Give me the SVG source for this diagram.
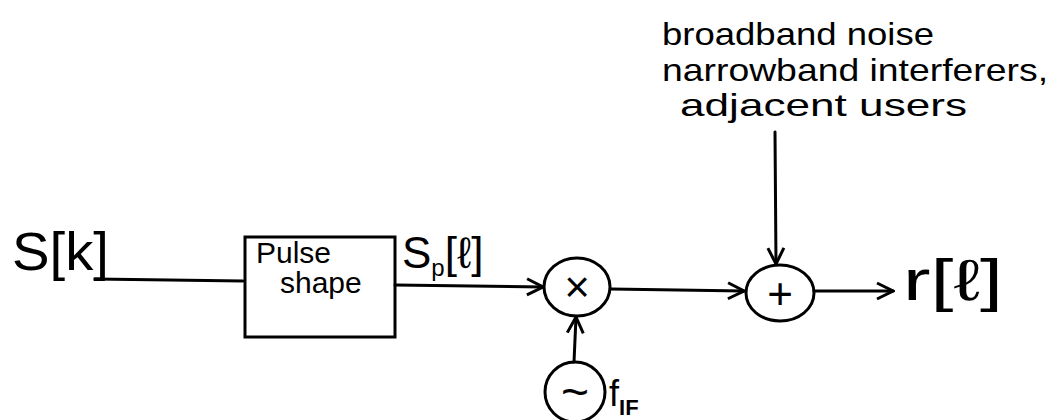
<svg xmlns="http://www.w3.org/2000/svg" width="1054" height="420" viewBox="0 0 1054 420">
<defs>
<marker id="arr" viewBox="0 0 20 20" refX="18" refY="10" markerWidth="20" markerHeight="20" markerUnits="userSpaceOnUse" orient="auto">
<path d="M2,2 L18,10 L2,18" fill="none" stroke="#000" stroke-width="3"/>
</marker>
<style>
.s{fill:none;stroke:#000;stroke-width:3;stroke-linecap:round}
.t{font-family:"Liberation Sans",Arial,sans-serif;fill:#000}
</style>
</defs>
<rect width="1054" height="420" fill="#fff"/>
<g id="conn">
<line class="s" x1="95" y1="279" x2="243" y2="281"/>
<line class="s" x1="395" y1="285" x2="543" y2="287" marker-end="url(#arr)"/>
<line class="s" x1="611" y1="289" x2="744" y2="291" marker-end="url(#arr)"/>
<line class="s" x1="814" y1="291" x2="893" y2="291" marker-end="url(#arr)"/>
<line class="s" x1="775" y1="132" x2="776" y2="264" marker-end="url(#arr)"/>
<line class="s" x1="574" y1="362" x2="576" y2="317" marker-end="url(#arr)"/>
</g>
<g id="input"><text class="t" x="12" y="270" font-size="54" textLength="97" lengthAdjust="spacingAndGlyphs">S[k]</text></g>
<g id="pulse">
<rect class="s" x="245" y="237" width="150" height="100"/>
<text class="t" x="256" y="263" font-size="30">Pulse</text>
<text class="t" x="280" y="293" font-size="30">shape</text>
<text class="t" x="402" y="268" font-size="44">S<tspan font-size="24" dy="8">p</tspan><tspan dy="-8">[ℓ]</tspan></text>
</g>
<g id="mult">
<ellipse class="s" cx="577" cy="287" rx="33" ry="29"/>
<text class="t" x="577" y="302" font-size="44" text-anchor="middle">×</text>
</g>
<g id="adder">
<ellipse class="s" cx="780" cy="293" rx="34" ry="28"/>
<text class="t" x="780" y="309" font-size="44" text-anchor="middle">+</text>
</g>
<g id="osc">
<circle class="s" cx="575" cy="392" r="30"/>
<text class="t" x="575" y="408" font-size="48" text-anchor="middle">~</text>
<text class="t" x="609" y="406" font-size="36">f<tspan font-size="22" font-weight="bold" dy="9">IF</tspan></text>
</g>
<g id="output"><text class="t" x="903" y="300" font-size="58" textLength="100" lengthAdjust="spacingAndGlyphs">r[ℓ]</text></g>
<g id="noise">
<text class="t" x="662" y="45" font-size="32" textLength="272" lengthAdjust="spacingAndGlyphs">broadband noise</text>
<text class="t" x="662" y="81" font-size="32" textLength="386" lengthAdjust="spacingAndGlyphs">narrowband interferers,</text>
<text class="t" x="680" y="116" font-size="32" textLength="287" lengthAdjust="spacingAndGlyphs">adjacent users</text>
</g>
</svg>
